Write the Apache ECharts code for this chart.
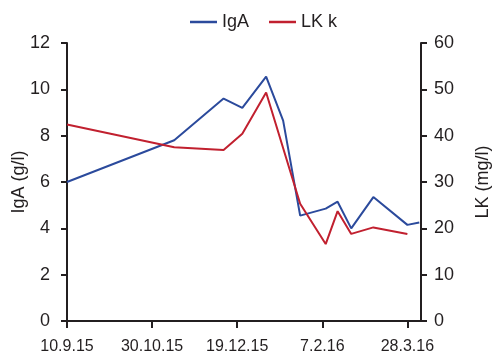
<!DOCTYPE html>
<html>
<head>
<meta charset="utf-8">
<script src="https://cdn.jsdelivr.net/npm/echarts@6/dist/echarts.min.js"></script>
<style>html,body{margin:0;padding:0;background:#fff}#c{width:500px;height:359px}</style>
</head>
<body>
<div id="c"></div>
<script>
// Sample dates (ISO) and values
const dates = ['2015-09-10','2015-11-12','2015-12-11','2015-12-22','2016-01-05','2016-01-15','2016-01-25','2016-02-09','2016-02-16','2016-02-24','2016-03-08','2016-03-28','2016-04-04'];
const igA = [6.0, 7.8, 9.6, 9.2, 10.55, 8.65, 4.55, 4.85, 5.15, 4.0, 5.35, 4.15, 4.25];
const lkK = [42.4, 37.5, 36.9, 40.4, 49.3, null, 25.3, 16.6, 23.7, 18.8, 20.2, 18.8, null];
const seriesNames = ['IgA', 'LK k'];
const axisNames = ['IgA (g/l)', 'LK (mg/l)'];
const startDate = '2015-09-10';
const xMaxDays = 208;

const DAY = 86400000;
const t0 = Date.parse(startDate + 'T00:00:00Z');
const dayOf = s => Math.round((Date.parse(s + 'T00:00:00Z') - t0) / DAY);
const fmt = d => { const dt = new Date(t0 + d * DAY); return dt.getUTCDate() + '.' + (dt.getUTCMonth() + 1) + '.' + (dt.getUTCFullYear() % 100); };
const days = dates.map(dayOf);
const pairs = vals => days.map((d, i) => [d, vals[i]]);

const FONT = 'Liberation Sans';
const TXT = '#231f20';
const chart = echarts.init(document.getElementById('c'), null, {renderer: 'canvas'});
chart.setOption({
  animation: false,
  textStyle: {fontFamily: FONT, color: TXT},
  legend: {
    left: 185, top: 8,
    itemWidth: 27, itemHeight: 2.5, itemGap: 20,
    icon: 'rect',
    textStyle: {fontFamily: FONT, fontSize: 18, color: TXT},
    data: seriesNames
  },
  grid: {left: 67, right: 79, top: 43, bottom: 38, containLabel: false, outerBoundsMode: 'none'},
  xAxis: {
    type: 'value', min: 0, max: xMaxDays, interval: 50,
    splitLine: {show: false},
    axisLine: {lineStyle: {color: TXT, width: 2}},
    axisTick: {length: 7, lineStyle: {color: TXT, width: 2}},
    axisLabel: {
      fontFamily: FONT, fontSize: 16, color: TXT, margin: 18, showMaxLabel: false,
      formatter: v => (v % 50 === 0 ? fmt(v) : '')
    }
  },
  yAxis: [
    {
      type: 'value', min: 0, max: 12, interval: 2,
      name: axisNames[0], nameLocation: 'middle', nameGap: 39, nameRotate: 90, nameMoveOverlap: false,
      nameTextStyle: {fontFamily: FONT, fontSize: 18, color: TXT},
      splitLine: {show: false},
      axisLine: {show: true, lineStyle: {color: TXT, width: 2}},
      axisTick: {show: true, length: 6, lineStyle: {color: TXT, width: 2}},
      axisLabel: {fontFamily: FONT, fontSize: 18, color: TXT, margin: 17}
    },
    {
      type: 'value', min: 0, max: 60, interval: 10, position: 'right',
      name: axisNames[1], nameLocation: 'middle', nameGap: 53, nameRotate: 90, nameMoveOverlap: false,
      nameTextStyle: {fontFamily: FONT, fontSize: 18, color: TXT},
      splitLine: {show: false},
      axisLine: {show: true, lineStyle: {color: TXT, width: 2}},
      axisTick: {show: true, length: 6, lineStyle: {color: TXT, width: 2}},
      axisLabel: {fontFamily: FONT, fontSize: 18, color: TXT, margin: 13}
    }
  ],
  series: [
    {
      name: seriesNames[0], type: 'line', yAxisIndex: 0, data: pairs(igA),
      showSymbol: false, symbol: 'none', connectNulls: true,
      color: '#2b4a9c', lineStyle: {width: 2, color: '#2b4a9c'}
    },
    {
      name: seriesNames[1], type: 'line', yAxisIndex: 1, data: pairs(lkK),
      showSymbol: false, symbol: 'none', connectNulls: true,
      color: '#c1202f', lineStyle: {width: 2, color: '#c1202f'}
    }
  ]
});
</script>
</body>
</html>
